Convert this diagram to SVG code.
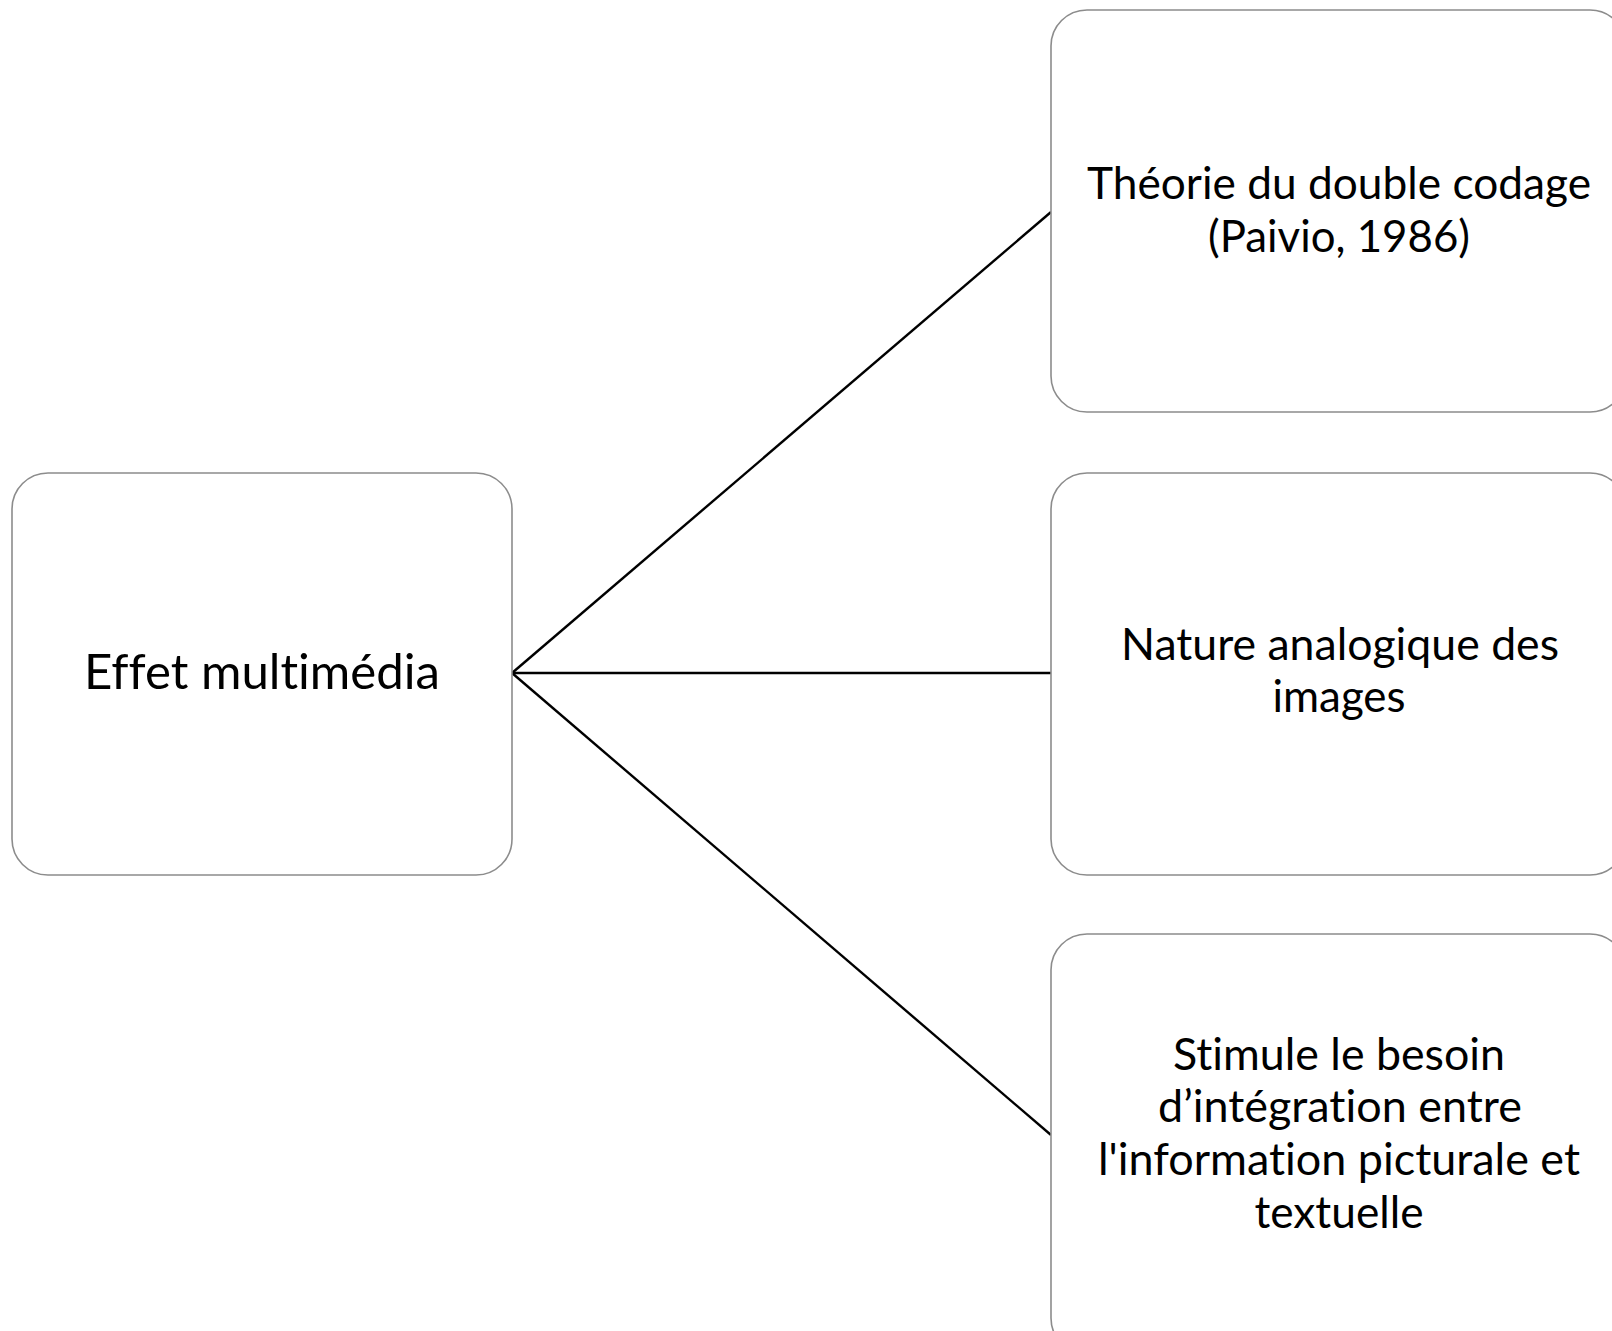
<svg xmlns="http://www.w3.org/2000/svg" width="1612" height="1331" viewBox="0 0 1612 1331">
<style>
.box{fill:#ffffff;stroke:#8c8c8c;stroke-width:1.6}
.lbl{font-family:Lato,"Open Sans","Liberation Sans",sans-serif;fill:#000;text-anchor:middle;font-variant-ligatures:none;font-feature-settings:"liga" 0,"clig" 0,"dlig" 0}
.conn{stroke:#000;stroke-width:2.4;fill:none}
</style>
<rect width="1612" height="1331" fill="#ffffff"/>
<g id="connectors">
<line class="conn" x1="512" y1="673" x2="1051" y2="212"/>
<line class="conn" x1="512" y1="673" x2="1051" y2="673"/>
<line class="conn" x1="512" y1="673" x2="1051" y2="1135"/>
</g>
<g id="node-effet">
<rect class="box" x="12" y="473" width="500" height="402" rx="36" ry="36"/>
<text class="lbl" x="262" y="689" font-size="48" textLength="356" lengthAdjust="spacingAndGlyphs">Effet multimédia</text>
</g>
<g id="node-theorie">
<rect class="box" x="1051" y="10" width="575" height="402" rx="36" ry="36"/>
<text class="lbl" font-size="44"><tspan x="1339" y="199" textLength="504" lengthAdjust="spacingAndGlyphs">Théorie du double codage</tspan><tspan x="1339" y="252" textLength="262" lengthAdjust="spacingAndGlyphs">(Paivio, 1986)</tspan></text>
</g>
<g id="node-nature">
<rect class="box" x="1051" y="473" width="575" height="402" rx="36" ry="36"/>
<text class="lbl" font-size="44"><tspan x="1340" y="660" textLength="438" lengthAdjust="spacingAndGlyphs">Nature analogique des</tspan><tspan x="1339" y="712" textLength="133" lengthAdjust="spacingAndGlyphs">images</tspan></text>
</g>
<g id="node-stimule">
<rect class="box" x="1051" y="934" width="575" height="420" rx="36" ry="36"/>
<text class="lbl" font-size="44"><tspan x="1339" y="1070" textLength="332" lengthAdjust="spacingAndGlyphs">Stimule le besoin</tspan><tspan x="1340" y="1122" textLength="364" lengthAdjust="spacingAndGlyphs">d’intégration entre</tspan><tspan x="1339" y="1175" textLength="482" lengthAdjust="spacingAndGlyphs">l'information picturale et</tspan><tspan x="1339" y="1228" textLength="169" lengthAdjust="spacingAndGlyphs">textuelle</tspan></text>
</g>
</svg>
